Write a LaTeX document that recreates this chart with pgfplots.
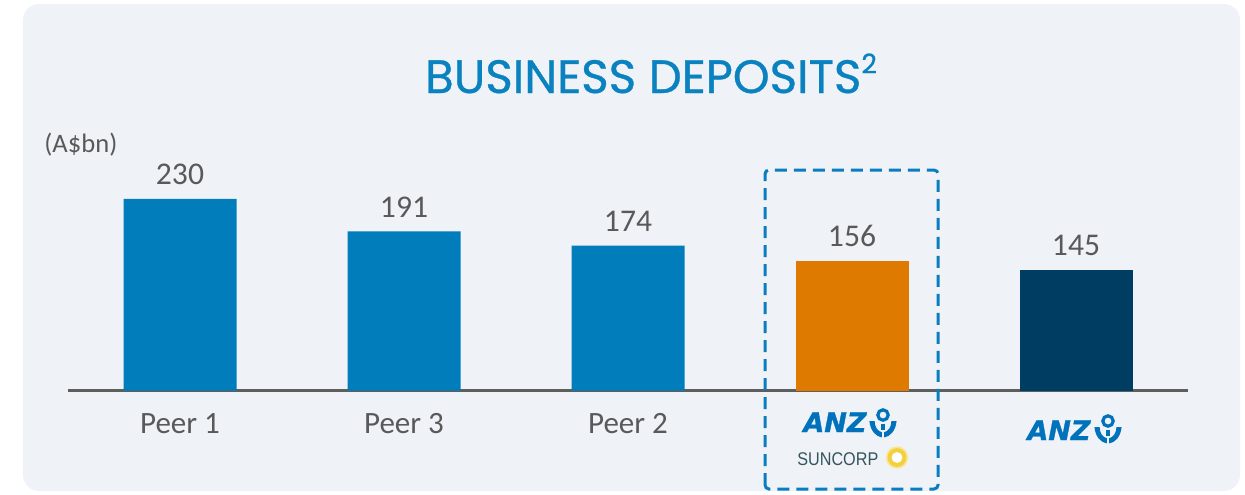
\documentclass[border=0pt]{standalone}
\usepackage{pgfplots}
\pgfplotsset{compat=1.18}
\usepackage{fontspec}
\setmainfont{Carlito}
\newfontfamily\titlefont[FakeBold=0.7]{Poppins}
\newfontfamily\anzfont[FakeBold=1.2]{DejaVu Sans}
\newfontfamily\sunfont{Liberation Sans}
\definecolor{panel}{HTML}{EFF3F7}
\definecolor{peerblue}{HTML}{007DBA}
\definecolor{anzorange}{HTML}{DF7A00}
\definecolor{anznavy}{HTML}{003D62}
\definecolor{titleblue}{HTML}{0A82C0}
\definecolor{txtgray}{HTML}{595959}
\definecolor{axgray}{HTML}{5E5E5E}
\definecolor{dashblue}{HTML}{0A7DC0}
\definecolor{logoblue}{HTML}{0072BC}
\definecolor{suntxt}{HTML}{34555C}
\definecolor{sunyellow}{HTML}{F3D03E}
\newcommand\anzsym[2]{%
  \begin{scope}[shift={(#1pt,#2pt)}, logoblue]
    \draw[line width=1.6pt] (0,0) circle (2.6pt);
    \fill (-6.8pt,-3pt) .. controls (-6.3pt,-8pt) and (-3.5pt,-10.8pt) .. (-0.6pt,-11.2pt)
      -- (-0.6pt,-8.6pt) .. controls (-2.6pt,-8.2pt) and (-4.2pt,-6pt) .. (-4.2pt,-3pt) -- cycle;
    \fill (6.8pt,-3pt) .. controls (6.3pt,-8pt) and (3.5pt,-10.8pt) .. (0.6pt,-11.2pt)
      -- (0.6pt,-8.6pt) .. controls (2.6pt,-8.2pt) and (4.2pt,-6pt) .. (4.2pt,-3pt) -- cycle;
    \fill (-0.9pt,-4.6pt) rectangle (0.9pt,-7.6pt);
  \end{scope}}
\begin{document}
\begin{tikzpicture}
\useasboundingbox (-34pt,-51.75pt) rectangle (588.5pt,195.25pt);
\fill[panel, rounded corners=8pt] (-22.5pt,-50.25pt) rectangle (586pt,193.25pt);
\begin{axis}[
  at={(0pt,0pt)}, anchor=south west,
  x=112pt, y=0.4166pt,
  xmin=-0.5, xmax=4.5, ymin=0, ymax=260,
  axis x line=bottom, axis y line=none,
  axis line style={-, axgray, line width=1.25pt},
  xtick={0,1,2}, xticklabels={Peer 1, Peer 3, Peer 2},
  major tick length=0pt,
  xticklabel style={anchor=base, yshift=-21.25pt, font=\fontsize{15.5}{18}\selectfont, text=txtgray},
  ytick=\empty,
  /pgf/number format/assume math mode=true,
  ybar, bar width=56.5pt, bar shift=0pt,
  nodes near coords,
  every node near coord/.append style={anchor=base, yshift=7pt, font=\fontsize{15.8}{18}\selectfont, text=txtgray},
  clip=false,
]
\addplot[fill=peerblue, draw=none] coordinates {(0,230) (1,191) (2,174)};
\addplot[fill=anzorange, draw=none] coordinates {(3,156)};
\addplot[fill=anznavy, draw=none] coordinates {(4,145)};
\end{axis}
\node[anchor=base, text=titleblue, font=\titlefont\fontsize{23.4}{27}\selectfont, inner sep=0pt] at (291.5pt,148.75pt) {BUSINESS DEPOSITS\raisebox{0.42em}{\fontsize{13.5}{15}\selectfont 2}};
\node[anchor=base west, text=txtgray, font=\fontsize{13.3}{16}\selectfont, inner sep=0pt] at (-12pt,119.25pt) {(A\$bn)};
\draw[dashblue, line width=1.5pt, dash pattern=on 6pt off 3.5pt, rounded corners=2pt] (348.5pt,-49.25pt) rectangle (435pt,110.25pt);
% ANZ + Suncorp logo
\node[anchor=base west, text=logoblue, font=\anzfont\bfseries\itshape\fontsize{13.5}{16}\selectfont, inner sep=0pt] at (367.5pt,-20.75pt) {ANZ};
\anzsym{407.5}{-12.25}
\node[anchor=base west, text=suntxt, font=\sunfont\fontsize{9.2}{11}\selectfont, inner sep=0pt, xscale=0.88] at (364.5pt,-37.25pt) {SUNCORP};
\fill[sunyellow!55] (414.5pt,-33.5pt) circle (5.6pt);
\fill[sunyellow] (414.5pt,-33.5pt) circle (4.7pt);
\fill[white] (414.5pt,-33.5pt) circle (2.7pt);
% ANZ logo
\node[anchor=base west, text=logoblue, font=\anzfont\bfseries\itshape\fontsize{13.5}{16}\selectfont, inner sep=0pt] at (479.5pt,-24.75pt) {ANZ};
\anzsym{520}{-15.25}
\end{tikzpicture}
\end{document}
